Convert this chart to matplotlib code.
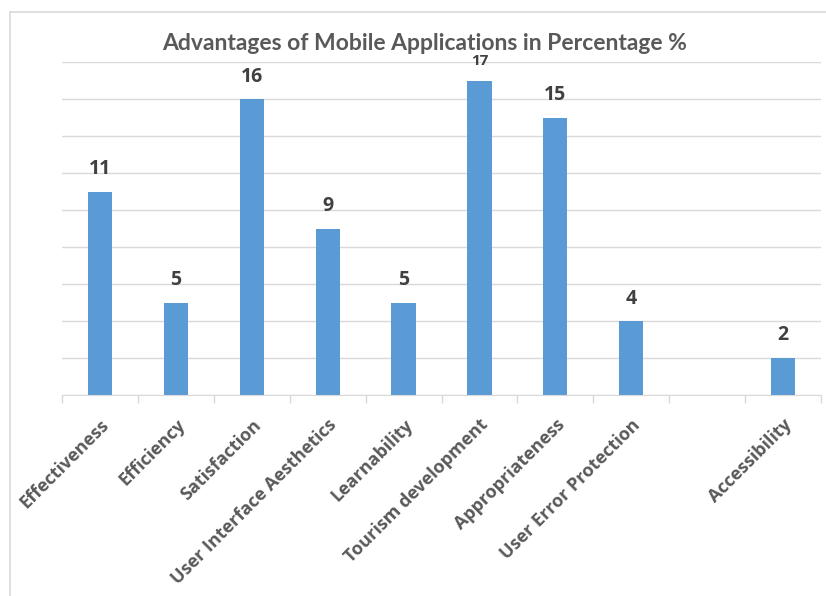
import numpy as np
import matplotlib.pyplot as plt
from matplotlib.lines import Line2D

# categories and percentages (blank slot kept as in the survey layout)
categories = ["Effectiveness", "Efficiency", "Satisfaction", "User Interface Aesthetics",
              "Learnability", "Tourism development", "Appropriateness",
              "User Error Protection", "", "Accessibility"]
values = [11, 5, 16, 9, 5, 17, 15, 4, None, 2]

barColor = "#5B9BD5"
gridColor = "#D9D9D9"
textColor = "#595959"
labelColor = "#404040"

W, H = 826, 596
fig = plt.figure(figsize=(W / 100, H / 100), dpi=100)

# outer chart frame (left and top edges visible)
fig.add_artist(Line2D([10 / W, 10 / W], [0, 1 - 12 / H], transform=fig.transFigure,
                      color=gridColor, lw=1.2))
fig.add_artist(Line2D([10 / W, 1], [1 - 12 / H, 1 - 12 / H], transform=fig.transFigure,
                      color=gridColor, lw=1.2))

ax = fig.add_axes([62 / W, 201 / H, (821 - 62) / W, (395 - 62) / H])

x = np.arange(len(categories))
heights = [v if v is not None else 0 for v in values]
bars = ax.bar(x, heights, width=0.32, color=barColor, zorder=3)

for xi, v in zip(x, values):
    if v is None:
        continue
    size = 11 if v == 17 else 14
    ax.annotate(str(v), (xi, v), xytext=(0, 9), textcoords="offset points",
                ha="center", va="bottom", fontsize=size, fontweight="bold",
                color=labelColor, family="Open Sans", annotation_clip=False,
                zorder=5)

ax.set_xlim(-0.5, len(categories) - 0.5)
ax.set_ylim(0, 18)
ax.set_yticks(np.arange(0, 19, 2))
ax.yaxis.grid(True, color=gridColor, lw=1)
ax.tick_params(axis="y", length=0, labelleft=False)

ax.set_xticks(x)
ax.set_xticklabels(categories, rotation=45, ha="right", rotation_mode="anchor",
                   fontsize=13, fontweight="bold", color=textColor, family="Open Sans")
ax.tick_params(axis="x", which="major", length=0, pad=15)
ax.set_xticks(np.arange(-0.5, len(categories)), minor=True)
ax.tick_params(axis="x", which="minor", length=6, color=gridColor, width=1)

for side in ["top", "right", "left"]:
    ax.spines[side].set_visible(False)
ax.spines["bottom"].set_color(gridColor)
ax.spines["bottom"].set_zorder(4)

fig.text(425 / W, 1 - 43 / H, "Advantages of Mobile Applications in Percentage %",
         ha="center", va="center", fontsize=16.5, fontweight="bold", color=textColor,
         family="Lato")

plt.savefig("out.png", dpi=100)
